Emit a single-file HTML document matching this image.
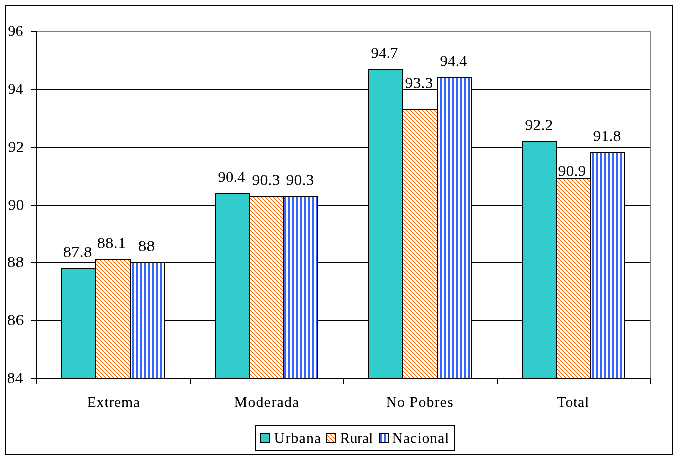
<!DOCTYPE html><html><head><meta charset="utf-8"><title>Chart</title><style>html,body{margin:0;padding:0;background:#fff;width:678px;height:459px;overflow:hidden}svg{display:block}text{font-family:'Liberation Serif', 'Times New Roman', serif;font-size:15px;fill:#000}</style></head><body><svg width="678" height="459" viewBox="0 0 678 459"><defs><pattern id="diag" patternUnits="userSpaceOnUse" x="0" y="0" width="4" height="4"><rect width="4" height="4" fill="#fff"/><rect x="0" y="0" width="1" height="1" fill="#FF6600"/><rect x="1" y="1" width="1" height="1" fill="#FF6600"/><rect x="2" y="2" width="1" height="1" fill="#FF6600"/><rect x="3" y="3" width="1" height="1" fill="#FF6600"/></pattern><pattern id="vert" patternUnits="userSpaceOnUse" x="0" y="0" width="4" height="4"><rect width="4" height="4" fill="#fff"/><rect x="0" y="0" width="2" height="4" fill="#3366FF"/></pattern><filter id="crisp" filterUnits="userSpaceOnUse" x="0" y="0" width="678" height="459" color-interpolation-filters="sRGB"><feComponentTransfer><feFuncA type="table" tableValues="0 0 0.6 1 1"/></feComponentTransfer></filter></defs><rect x="0" y="0" width="678" height="459" fill="#fff"/><g shape-rendering="crispEdges"><rect x="5.5" y="5.5" width="667" height="449" fill="none" stroke="#000" stroke-width="1"/><rect x="36.5" y="31.5" width="614" height="347" fill="none" stroke="#808080" stroke-width="1"/><line x1="37" y1="89.5" x2="650" y2="89.5" stroke="#000" stroke-width="1"/><line x1="37" y1="147.5" x2="650" y2="147.5" stroke="#000" stroke-width="1"/><line x1="37" y1="205.5" x2="650" y2="205.5" stroke="#000" stroke-width="1"/><line x1="37" y1="262.5" x2="650" y2="262.5" stroke="#000" stroke-width="1"/><line x1="37" y1="320.5" x2="650" y2="320.5" stroke="#000" stroke-width="1"/><line x1="31" y1="31.5" x2="36" y2="31.5" stroke="#000" stroke-width="1"/><line x1="31" y1="89.5" x2="36" y2="89.5" stroke="#000" stroke-width="1"/><line x1="31" y1="147.5" x2="36" y2="147.5" stroke="#000" stroke-width="1"/><line x1="31" y1="205.5" x2="36" y2="205.5" stroke="#000" stroke-width="1"/><line x1="31" y1="262.5" x2="36" y2="262.5" stroke="#000" stroke-width="1"/><line x1="31" y1="320.5" x2="36" y2="320.5" stroke="#000" stroke-width="1"/><line x1="31" y1="378.5" x2="36" y2="378.5" stroke="#000" stroke-width="1"/><rect x="61.5" y="268.5" width="34" height="110" fill="#33CCCC" stroke="#000" stroke-width="1"/><rect x="95.5" y="259.5" width="35" height="119" fill="url(#diag)" stroke="#000" stroke-width="1"/><rect x="130.5" y="262.5" width="34" height="116" fill="url(#vert)" stroke="#000" stroke-width="1"/><rect x="215.5" y="193.5" width="34" height="185" fill="#33CCCC" stroke="#000" stroke-width="1"/><rect x="249.5" y="196.5" width="34" height="182" fill="url(#diag)" stroke="#000" stroke-width="1"/><rect x="283.5" y="196.5" width="34" height="182" fill="url(#vert)" stroke="#000" stroke-width="1"/><rect x="368.5" y="69.5" width="34" height="309" fill="#33CCCC" stroke="#000" stroke-width="1"/><rect x="402.5" y="109.5" width="35" height="269" fill="url(#diag)" stroke="#000" stroke-width="1"/><rect x="437.5" y="77.5" width="34" height="301" fill="url(#vert)" stroke="#000" stroke-width="1"/><rect x="522.5" y="141.5" width="34" height="237" fill="#33CCCC" stroke="#000" stroke-width="1"/><rect x="556.5" y="178.5" width="34" height="200" fill="url(#diag)" stroke="#000" stroke-width="1"/><rect x="590.5" y="152.5" width="34" height="226" fill="url(#vert)" stroke="#000" stroke-width="1"/><line x1="36.5" y1="31" x2="36.5" y2="384" stroke="#000" stroke-width="1"/><line x1="36" y1="378.5" x2="651" y2="378.5" stroke="#000" stroke-width="1"/><line x1="190.5" y1="378" x2="190.5" y2="384" stroke="#000" stroke-width="1"/><line x1="343.5" y1="378" x2="343.5" y2="384" stroke="#000" stroke-width="1"/><line x1="497.5" y1="378" x2="497.5" y2="384" stroke="#000" stroke-width="1"/><line x1="650.5" y1="378" x2="650.5" y2="384" stroke="#000" stroke-width="1"/><rect x="255.5" y="425.5" width="199" height="25" fill="#fff" stroke="#000" stroke-width="1"/><rect x="260.5" y="433.5" width="9" height="9" fill="#33CCCC" stroke="#000" stroke-width="1"/><rect x="326.5" y="433.5" width="9" height="9" fill="url(#diag)" stroke="#000" stroke-width="1"/><rect x="379.5" y="433.5" width="9" height="9" fill="url(#vert)" stroke="#000" stroke-width="1"/></g><g filter="url(#crisp)"><text x="77.50" y="257.00" text-anchor="middle" textLength="29.00" lengthAdjust="spacingAndGlyphs">87.8</text><text x="111.50" y="248.00" text-anchor="middle" textLength="29.00" lengthAdjust="spacingAndGlyphs">88.1</text><text x="146.50" y="251.00" text-anchor="middle" textLength="17.00" lengthAdjust="spacingAndGlyphs">88</text><text x="231.50" y="182.00" text-anchor="middle" textLength="27.00" lengthAdjust="spacingAndGlyphs">90.4</text><text x="266.00" y="185.00" text-anchor="middle" textLength="28.00" lengthAdjust="spacingAndGlyphs">90.3</text><text x="300.00" y="185.00" text-anchor="middle" textLength="28.00" lengthAdjust="spacingAndGlyphs">90.3</text><text x="384.50" y="58.00" text-anchor="middle" textLength="27.00" lengthAdjust="spacingAndGlyphs">94.7</text><text x="419.00" y="88.00" text-anchor="middle" textLength="28.00" lengthAdjust="spacingAndGlyphs">93.3</text><text x="453.50" y="66.00" text-anchor="middle" textLength="27.00" lengthAdjust="spacingAndGlyphs">94.4</text><text x="539.00" y="130.00" text-anchor="middle" textLength="28.00" lengthAdjust="spacingAndGlyphs">92.2</text><text x="572.00" y="176.00" text-anchor="middle" textLength="28.00" lengthAdjust="spacingAndGlyphs">90.9</text><text x="607.00" y="141.00" text-anchor="middle" textLength="28.00" lengthAdjust="spacingAndGlyphs">91.8</text><text x="15.50" y="36.00" text-anchor="middle" textLength="15.00" lengthAdjust="spacingAndGlyphs">96</text><text x="15.50" y="94.00" text-anchor="middle" textLength="15.00" lengthAdjust="spacingAndGlyphs">94</text><text x="16.00" y="152.00" text-anchor="middle" textLength="16.00" lengthAdjust="spacingAndGlyphs">92</text><text x="16.00" y="210.00" text-anchor="middle" textLength="16.00" lengthAdjust="spacingAndGlyphs">90</text><text x="15.50" y="267.00" text-anchor="middle" textLength="17.00" lengthAdjust="spacingAndGlyphs">88</text><text x="15.50" y="325.00" text-anchor="middle" textLength="17.00" lengthAdjust="spacingAndGlyphs">86</text><text x="15.00" y="383.00" text-anchor="middle" textLength="16.00" lengthAdjust="spacingAndGlyphs">84</text><text x="113.50" y="407.00" text-anchor="middle" textLength="53.00" lengthAdjust="spacing">Extrema</text><text x="266.50" y="407.00" text-anchor="middle" textLength="65.00" lengthAdjust="spacing">Moderada</text><text x="419.50" y="407.00" text-anchor="middle" textLength="67.00" lengthAdjust="spacing">No Pobres</text><text x="573.00" y="407.00" text-anchor="middle" textLength="32.00" lengthAdjust="spacing">Total</text><text x="297.50" y="443.00" text-anchor="middle" textLength="47.00" lengthAdjust="spacing">Urbana</text><text x="356.50" y="443.00" text-anchor="middle" textLength="33.00" lengthAdjust="spacing">Rural</text><text x="420.50" y="443.00" text-anchor="middle" textLength="57.00" lengthAdjust="spacing">Nacional</text></g></svg></body></html>
